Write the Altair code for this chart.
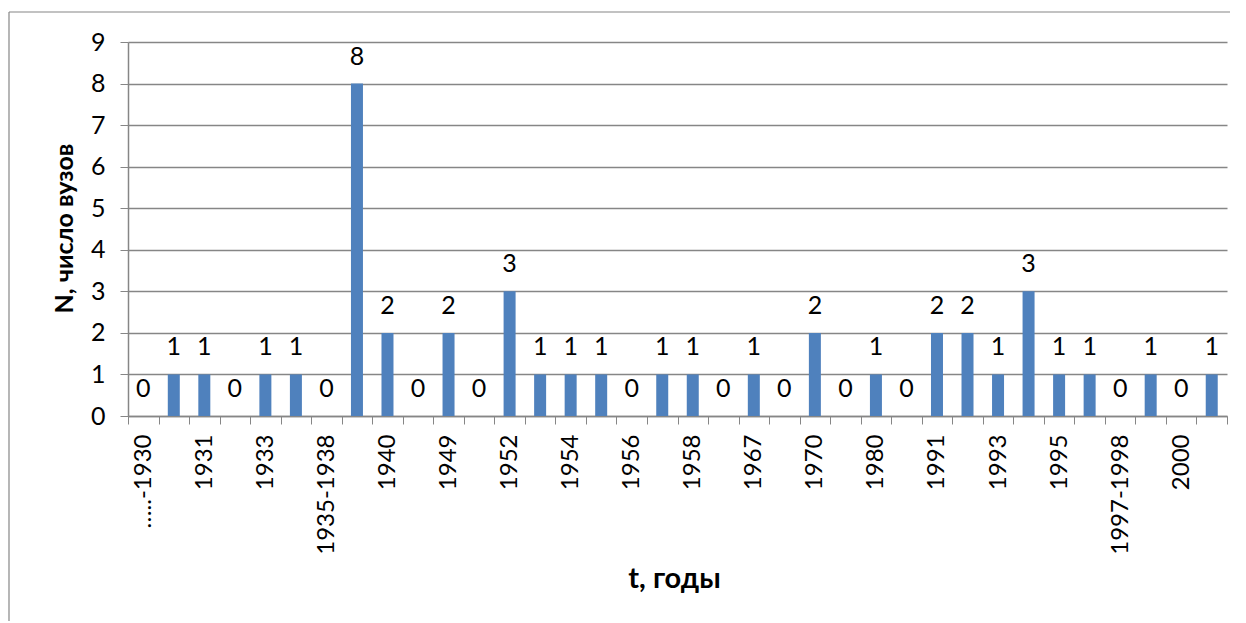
import json
import altair as alt
import pandas as pd

# categories (odd ones are unlabeled in the original chart)
categories = [
    "…..-1930", "1930", "1931", "1932", "1933", "1934", "1935-1938", "1939",
    "1940", "1941-1948", "1949", "1950-1951", "1952", "1953", "1954", "1955",
    "1956", "1957", "1958", "1959-1966", "1967", "1968-1969", "1970", "1971-1979",
    "1980", "1981-1990", "1991", "1992", "1993", "1994", "1995", "1996",
    "1997-1998", "1999", "2000", "2001",
]
values = [
    0, 1, 1, 0, 1, 1, 0, 8,
    2, 0, 2, 0, 3, 1, 1, 1,
    0, 1, 1, 0, 1, 0, 2, 0,
    1, 0, 2, 2, 1, 3, 1, 1,
    0, 1, 0, 1,
]
shown_labels = categories[::2]
y_ticks = list(range(0, 10))

df = pd.DataFrame({"t": categories, "n": values})

FONT = "Lato"
GRAY = "#868686"

label_expr = "indexof(" + json.dumps(shown_labels, ensure_ascii=False) + ", datum.value) >= 0 ? datum.label : ''"

x = alt.X(
    "t:N",
    sort=categories,
    scale=alt.Scale(paddingInner=0, paddingOuter=0),
    axis=alt.Axis(
        title="t, годы",
        labelExpr=label_expr,
        labelAngle=-90,
        labelAlign="right",
        labelBaseline="middle",
        labelPadding=10,
        labelFont=FONT,
        labelFontSize=24,
        labelColor="black",
        labelOverlap=False,
        tickBand="extent",
        tickSize=8,
        tickColor=GRAY,
        domainColor=GRAY,
        domainWidth=1.5,
        titleFont=FONT,
        titleFontSize=29,
        titleFontWeight="bold",
        titleColor="black",
        titleX=546,
        titleY=162,
        titleBaseline="middle",
        titleAlign="center",
        grid=False,
    ),
)

y = alt.Y(
    "n:Q",
    scale=alt.Scale(domain=[0, 9], nice=False),
    axis=alt.Axis(
        title="N, число вузов",
        values=y_ticks,
        labelFont=FONT,
        labelFontSize=25,
        labelColor="black",
        labelPadding=15,
        tickSize=8,
        tickColor=GRAY,
        domainColor=GRAY,
        domainWidth=1.5,
        gridColor=GRAY,
        gridWidth=1.3,
        titleFont=FONT,
        titleFontSize=25,
        titleFontWeight="bold",
        titleColor="black",
        titleAngle=-90,
        titleX=-64,
        titleY=186,
        titleBaseline="middle",
        titleAlign="center",
    ),
)

base = alt.Chart(df)

bars = base.mark_bar(size=12, color="#4F81BD").encode(x=x, y=y)
labels = base.mark_text(dy=-27, baseline="middle", font=FONT, fontSize=25, color="black").encode(
    x=alt.X("t:N", sort=categories),
    y="n:Q",
    text="n:Q",
)

one = alt.Data(values=[{"a": 1}])
frame_top = alt.Chart(one).mark_rule(stroke=GRAY, strokeWidth=1.2).encode(
    x=alt.value(-119), x2=alt.value(1150), y=alt.value(-30)
)
frame_left = alt.Chart(one).mark_rule(stroke=GRAY, strokeWidth=1.2).encode(
    x=alt.value(-119), y=alt.value(-30), y2=alt.value(650)
)

chart = (
    alt.layer(frame_top, frame_left, bars, labels)
    .properties(
        width=1099,
        height=374,
        autosize=alt.AutoSizeParams(type="none"),
        padding={"left": 120, "top": 34, "right": 3, "bottom": 205},
    )
    .configure_view(stroke=None)
)

chart.save("out.html", embed_options={"renderer": "svg", "actions": False})
